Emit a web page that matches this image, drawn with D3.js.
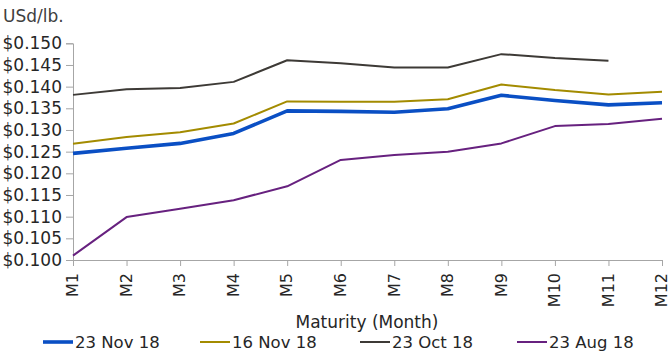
<!DOCTYPE html>
<html>
<head>
<meta charset="utf-8">
<script src="https://cdn.jsdelivr.net/npm/d3@7/dist/d3.min.js"></script>
<style>
  html, body { margin: 0; padding: 0; background: #fff; }
  svg { display: block; font-family: "DejaVu Sans", sans-serif; }
</style>
</head>
<body>
<svg id="chart" width="670" height="351"></svg>
<script>
// Maturity months on the x axis
const months = ["M1","M2","M3","M4","M5","M6","M7","M8","M9","M10","M11","M12"];

// Price curves (USd/lb.) per observation date
const nov23 = [0.1246,0.1258,0.1269,0.1292,0.1344,0.1343,0.1341,0.1349,0.1380,0.1368,0.1358,0.1363];
const nov16 = [0.1268,0.1284,0.1295,0.1315,0.1366,0.1365,0.1365,0.1371,0.1405,0.1392,0.1382,0.1388];
const oct23 = [0.1381,0.1394,0.1397,0.1411,0.1461,0.1454,0.1444,0.1444,0.1475,0.1466,0.1460,null];
const aug23 = [0.1010,0.1099,0.1118,0.1138,0.1170,0.1231,0.1242,0.1250,0.1269,0.1309,0.1314,0.1326];

const seriesNames = ["23 Nov 18","16 Nov 18","23 Oct 18","23 Aug 18"];
const yTicks = [0.100,0.105,0.110,0.115,0.120,0.125,0.130,0.135,0.140,0.145,0.150];

const series = [
  { name: seriesNames[0], values: nov23, color: "#0a4fc4", width: 3.6 },
  { name: seriesNames[1], values: nov16, color: "#a38b00", width: 2 },
  { name: seriesNames[2], values: oct23, color: "#3d3a36", width: 2 },
  { name: seriesNames[3], values: aug23, color: "#67217f", width: 2 }
];

const svg = d3.select("#chart");
const plotLeft = 73, plotRight = 662, plotTop = 43.3, plotBottom = 260;

const x = d3.scalePoint().domain(months).range([plotLeft, plotRight]);
const y = d3.scaleLinear().domain([0.100, 0.150]).range([plotBottom, plotTop]);

const axisColor = "#a6a6a6";
const textColor = "#262626";
const fontFamily = "'DejaVu Sans', sans-serif";

// y axis
const yAxis = svg.append("g")
  .attr("transform", `translate(${plotLeft},0)`)
  .call(d3.axisLeft(y).tickValues(yTicks).tickSize(7).tickPadding(4)
    .tickFormat(d => "$" + d3.format(".3f")(d)));
yAxis.attr("font-family", fontFamily);
yAxis.select(".domain").attr("stroke", axisColor);
yAxis.selectAll(".tick line").attr("stroke", axisColor);
yAxis.selectAll(".tick text").attr("fill", textColor).style("font-size", "17px");

// x axis, labels rotated to read bottom-to-top
const xAxis = svg.append("g")
  .attr("transform", `translate(0,${plotBottom})`)
  .call(d3.axisBottom(x).tickSize(6).tickSizeOuter(0));
xAxis.attr("font-family", fontFamily);
xAxis.select(".domain").attr("stroke", axisColor);
xAxis.selectAll(".tick line").attr("stroke", axisColor);
xAxis.selectAll(".tick text")
  .attr("fill", textColor)
  .style("font-size", "16px")
  .attr("text-anchor", "end")
  .attr("transform", "rotate(-90)")
  .attr("x", -13)
  .attr("y", 0)
  .attr("dy", "0.3em");

// price curves
const line = d3.line()
  .defined(d => d != null)
  .x((d, i) => x(months[i]))
  .y(d => y(d));

svg.append("g").selectAll("path")
  .data(series.slice().reverse())
  .join("path")
  .attr("fill", "none")
  .attr("stroke", d => d.color)
  .attr("stroke-width", d => d.width)
  .attr("stroke-linejoin", "round")
  .attr("d", d => line(d.values));

// unit label
svg.append("text")
  .attr("x", 3).attr("y", 22)
  .attr("fill", "#404040")
  .style("font-size", "17px")
  .text("USd/lb.");

// axis title
svg.append("text")
  .attr("x", 367).attr("y", 328)
  .attr("text-anchor", "middle")
  .attr("fill", textColor)
  .style("font-size", "17px")
  .text("Maturity (Month)");

// legend
const legendX = [43, 200, 360, 517];
const lg = svg.append("g");
series.forEach((s, i) => {
  lg.append("line")
    .attr("x1", legendX[i]).attr("x2", legendX[i] + 30)
    .attr("y1", 342).attr("y2", 342)
    .attr("stroke", s.color)
    .attr("stroke-width", s.width);
  lg.append("text")
    .attr("x", legendX[i] + 32).attr("y", 348)
    .attr("fill", textColor)
    .style("font-size", "16.5px")
    .text(s.name);
});
</script>
</body>
</html>
